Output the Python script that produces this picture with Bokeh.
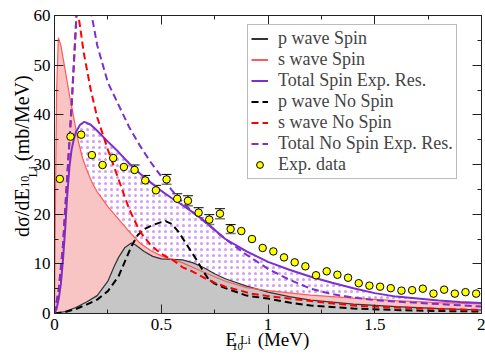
from bokeh.plotting import figure
from bokeh.models import (Range1d, SingleIntervalTicker, FixedTicker, LinearAxis, Whisker,
                          ColumnDataSource, Legend, LegendItem, PrintfTickFormatter, TeeHead)
from bokeh.embed import file_html
from bokeh.resources import INLINE

# ---------------- data ----------------
exp_x = [0.025, 0.075, 0.125, 0.175, 0.225, 0.275, 0.325, 0.375, 0.425, 0.475,
         0.525, 0.575, 0.625, 0.675, 0.725, 0.775, 0.825, 0.875, 0.925, 0.975,
         1.025, 1.075, 1.125, 1.175, 1.225, 1.275, 1.325, 1.375, 1.425, 1.475,
         1.525, 1.575, 1.625, 1.675, 1.725, 1.775, 1.825, 1.875, 1.925, 1.975]
exp_y = [27.1, 35.6, 36.0, 31.9, 29.9, 31.3, 29.5, 28.9, 26.8, 24.8,
         27.0, 23.1, 22.7, 20.3, 18.9, 20.1, 17.0, 16.6, 15.0, 13.2,
         12.5, 11.3, 10.3, 9.5, 7.7, 8.5, 7.8, 7.2, 6.1, 5.6,
         5.4, 5.1, 4.6, 4.7, 5.0, 4.0, 4.8, 4.0, 4.3, 4.0]
exp_err = [1.1, 0.9, 1.0, 1.1, 1.0, 1.0, 1.0, 1.0, 1.0, 1.0,
           1.0, 1.0, 1.0, 1.0, 1.0, 1.0, 0.9]

p_spin_x = [0, 0.05, 0.1, 0.15, 0.2, 0.25, 0.28, 0.3, 0.33, 0.36, 0.38, 0.42, 0.46, 0.5,
            0.55, 0.6, 0.65, 0.7, 0.75, 0.8, 0.9, 1.0, 1.1, 1.2, 1.4, 1.6, 1.8, 2.0]
p_spin_y = [0, 0.4, 1.2, 2.3, 3.6, 6.5, 9.5, 11.3, 13.3, 14.2, 13.8, 12.5, 11.5, 11.0,
            10.9, 10.8, 10.2, 9.2, 8.0, 7.0, 5.5, 4.3, 3.4, 2.7, 1.9, 1.4, 1.0, 0.7]

s_spin_x = [0, 0.005, 0.01, 0.018, 0.03, 0.05, 0.07, 0.09, 0.11, 0.13, 0.15, 0.18, 0.2,
            0.25, 0.3, 0.35, 0.4, 0.45, 0.5, 0.6, 0.7, 0.8, 0.9, 1.0, 1.2, 1.4, 1.6, 1.8, 2.0]
s_spin_y = [0, 25, 45, 55.5, 54, 49, 44, 39.5, 35, 31.5, 29, 26, 24.5,
            21.5, 19.0, 16.5, 14.2, 12.7, 11.6, 10.2, 8.3, 6.5, 5.2, 4.6, 3.7, 3.1, 2.6, 2.2, 1.95]

tot_spin_x = [0, 0.01, 0.02, 0.03, 0.04, 0.05, 0.06, 0.07, 0.08, 0.09, 0.1, 0.12, 0.14, 0.17,
              0.2, 0.25, 0.3, 0.35, 0.4, 0.45, 0.5, 0.55, 0.6, 0.65, 0.7, 0.8, 0.9, 1.0,
              1.1, 1.2, 1.3, 1.4, 1.5, 1.6, 1.7, 1.8, 1.9, 2.0]
tot_spin_y = [0, 1, 3, 6, 11, 17, 24, 29.5, 33, 35, 36.5, 38, 38.6, 38,
              36.8, 34.6, 32.5, 30.2, 28.2, 26.4, 24.7, 23.2, 21.8, 20.3, 18.7, 15.0, 12.5, 10.4,
              8.8, 7.4, 6.2, 5.1, 4.1, 3.4, 3.0, 2.6, 2.3, 2.1]

p_ns_x = [0, 0.05, 0.1, 0.15, 0.2, 0.25, 0.3, 0.33, 0.36, 0.39, 0.42, 0.46, 0.5, 0.52, 0.55,
          0.58, 0.61, 0.64, 0.67, 0.7, 0.72, 0.75, 0.8, 0.9, 1.0, 1.1, 1.2, 1.4, 1.6, 1.8, 2.0]
p_ns_y = [0, 0.3, 0.9, 1.8, 2.8, 4.5, 7.5, 10.5, 13.5, 15.8, 17.0, 17.8, 18.4, 18.6, 18.0,
          16.5, 14.5, 12.5, 10.5, 8.3, 7.0, 6.0, 5.1, 3.6, 3.0, 2.2, 1.6, 1.0, 0.7, 0.5, 0.4]

s_ns_x = [0, 0.02, 0.04, 0.06, 0.08, 0.09, 0.1, 0.108, 0.114, 0.137, 0.17, 0.2, 0.25, 0.3,
          0.35, 0.4, 0.45, 0.5, 0.56, 0.6, 0.64, 0.7, 0.75, 0.8, 0.87, 0.92, 1.0, 1.2, 1.4,
          1.6, 1.8, 2.0]
s_ns_y = [0, 4.5, 13.5, 27.5, 41.5, 49.5, 57.5, 66, 59.5, 52.5, 45, 39.5, 33, 27,
          21, 16.5, 13.8, 12.0, 10.6, 9.3, 8.6, 7.2, 6.2, 5.4, 4.6, 4.0, 3.5, 2.5, 1.6,
          1.2, 0.9, 0.7]

tot_ns_x = [0, 0.02, 0.04, 0.06, 0.08, 0.09, 0.1, 0.11, 0.13, 0.15, 0.17, 0.2, 0.25, 0.3,
            0.35, 0.4, 0.45, 0.5, 0.55, 0.6, 0.65, 0.7, 0.8, 0.9, 1.0, 1.1, 1.2, 1.3, 1.4,
            1.5, 1.6, 1.8, 2.0]
tot_ns_y = [0, 5, 14, 28, 42, 50, 58, 64, 68, 66, 61, 54, 46.5, 42,
            37.5, 33.8, 30.5, 27.6, 24.8, 22.4, 20.3, 18.6, 15.0, 11.8, 9.0, 6.8, 5.0, 3.9, 3.2,
            2.7, 2.4, 1.9, 1.4]

legend_labels = ["p wave Spin", "s wave Spin", "Total Spin Exp. Res.", "p wave No Spin",
                 "s wave No Spin", "Total No Spin Exp. Res.", "Exp. data"]

# ---------------- figure ----------------
SERIF = "Liberation Serif"
PURPLE = "#7a30d0"
FRAME = "#222222"
NAN = float("nan")

p = figure(width=485, height=355, output_backend="svg", toolbar_location=None,
           x_range=Range1d(0, 2), y_range=Range1d(0, 60),
           min_border_left=54, min_border_right=4, min_border_top=15, min_border_bottom=42,
           background_fill_color="white", border_fill_color="white")
p.xgrid.visible = False
p.ygrid.visible = False
p.outline_line_color = FRAME


def style_axis(ax, ticker, labels=True):
    ax.ticker = ticker
    ax.major_tick_in = 9
    ax.major_tick_out = 0
    ax.minor_tick_in = 4
    ax.minor_tick_out = 0
    ax.axis_line_color = FRAME
    ax.major_tick_line_color = FRAME
    ax.minor_tick_line_color = FRAME
    if labels:
        ax.major_label_text_font = SERIF
        ax.major_label_text_font_size = "17px"
        ax.major_label_text_color = "black"
        ax.formatter = PrintfTickFormatter(format="%g")
    else:
        ax.major_label_text_color = None
        ax.major_label_standoff = 0


style_axis(p.xaxis[0], SingleIntervalTicker(interval=0.5, num_minor_ticks=2))
style_axis(p.yaxis[0], SingleIntervalTicker(interval=10, num_minor_ticks=2))
p.xaxis[0].major_label_standoff = 5
p.yaxis[0].major_label_standoff = 4

top_ax = LinearAxis()
style_axis(top_ax, SingleIntervalTicker(interval=0.5, num_minor_ticks=2), labels=False)
p.add_layout(top_ax, "above")
right_ax = LinearAxis()
style_axis(right_ax, SingleIntervalTicker(interval=10, num_minor_ticks=2), labels=False)
p.add_layout(right_ax, "right")


# fills as closed polygons down to zero
def area(xs, ys):
    return list(xs) + list(reversed(xs)), list(ys) + [0.0] * len(xs)


ax_, ay_ = area(tot_spin_x, tot_spin_y)
p.patch(x=ax_, y=ay_, fill_color="white", fill_alpha=1, line_color=None,
        hatch_pattern="dot", hatch_color="#d49cee", hatch_scale=6, hatch_weight=1.0)
ax_, ay_ = area(s_spin_x, s_spin_y)
p.patch(x=ax_, y=ay_, fill_color="#f9c4c4", fill_alpha=1, line_color=None)
ax_, ay_ = area(p_spin_x, p_spin_y)
p.patch(x=ax_, y=ay_, fill_color="#c6c6c6", fill_alpha=1, line_color=None)

# curve styles
styles = [
    dict(line_color="#333333", line_width=1.2),
    dict(line_color="#ff5a5a", line_width=1.2),
    dict(line_color=PURPLE, line_width=2),
    dict(line_color="black", line_width=2, line_dash="7 4"),
    dict(line_color="#ff0000", line_width=2, line_dash="7 4"),
    dict(line_color=PURPLE, line_width=2, line_dash="7 4"),
]
curves = [(p_spin_x, p_spin_y), (s_spin_x, s_spin_y), (tot_spin_x, tot_spin_y),
          (p_ns_x, p_ns_y), (s_ns_x, s_ns_y), (tot_ns_x, tot_ns_y)]
for (cx, cy), st in zip(curves, styles):
    p.line(x=cx, y=cy, **st)

# error bars
n_err = len(exp_err)
err_src = ColumnDataSource(data=dict(
    x=exp_x[:n_err],
    upper=[y + e for y, e in zip(exp_y[:n_err], exp_err)],
    lower=[y - e for y, e in zip(exp_y[:n_err], exp_err)],
))
p.add_layout(Whisker(source=err_src, base="x", upper="upper", lower="lower",
                     line_color="black", line_width=1,
                     upper_head=TeeHead(size=10, line_color="black", line_width=1),
                     lower_head=TeeHead(size=10, line_color="#777777", line_width=1.5)))

pt_style = dict(size=7.5, fill_color="#ffff00", line_color="black", line_width=1)
p.scatter(x=exp_x, y=exp_y, **pt_style)

# legend proxies (no visible data); legend lines drawn at width 2
proxies = [p.line(x=[NAN], y=[NAN], **dict(st, line_width=2)) for st in styles]
proxies.append(p.scatter(x=[NAN], y=[NAN], **pt_style))

legend = Legend(items=[LegendItem(label=lab, renderers=[r])
                       for lab, r in zip(legend_labels, proxies)],
                location=(193, 134), label_text_font=SERIF, label_text_font_size="18px",
                label_height=21, glyph_height=21, glyph_width=17, spacing=0, padding=3,
                label_standoff=10, margin=0, border_line_color="#777777", border_line_width=1,
                background_fill_color="white", background_fill_alpha=1)
p.add_layout(legend)


# axis titles, built from label-only axes stacked in the side panels
def title_axis(side, standoff, ticks, texts, size):
    ax = LinearAxis(ticker=FixedTicker(ticks=ticks, minor_ticks=[]),
                    major_label_overrides=dict(zip(ticks, texts)),
                    axis_line_color=None, major_tick_line_color=None,
                    minor_tick_line_color=None, major_tick_in=0, major_tick_out=0,
                    minor_tick_in=0, minor_tick_out=0, major_label_standoff=standoff,
                    major_label_text_font=SERIF, major_label_text_font_size=size,
                    major_label_text_color="black")
    if side == "left":
        ax.major_label_orientation = "vertical"
    p.add_layout(ax, side)


title_axis("below", -4, [0.828, 1.0726], ["E", "(MeV)"], "19px")
title_axis("below", -10, [0.8571], ["10"], "11px")
title_axis("below", -20, [0.8946], ["Li"], "12px")

title_axis("left", 1, [26.54], ["10"], "12px")
title_axis("left", -15, [20.31, 39.34], ["dσ/dE", "(mb/MeV)"], "20px")
title_axis("left", -32, [28.55], ["Li"], "13px")

open("out.html", "w").write(file_html(p, INLINE))
